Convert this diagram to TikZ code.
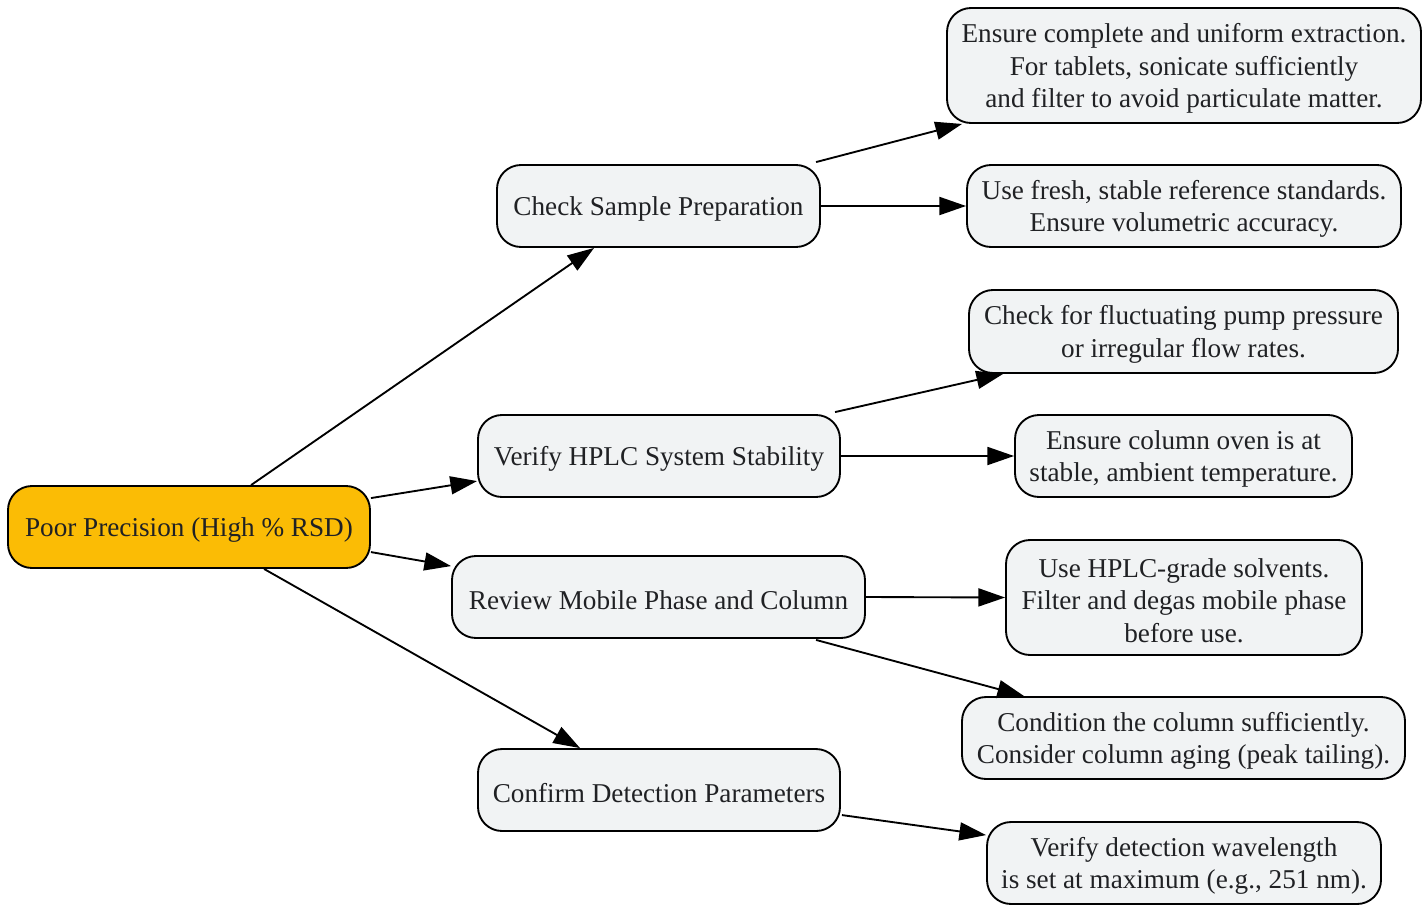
\documentclass[tikz,border=0pt]{standalone}
\usepackage{fontspec}
\setmainfont{Liberation Serif}
\usetikzlibrary{arrows.meta,calc}
\definecolor{rootfill}{HTML}{FBBC05}
\definecolor{boxfill}{HTML}{F1F3F4}
\definecolor{txt}{HTML}{202124}
\begin{document}
\begin{tikzpicture}[x=0.75pt,y=-0.75pt,
  box/.style={draw=black, line width=1.4pt, fill=boxfill, rounded corners=18pt, inner sep=0pt},
  rootbox/.style={box, fill=rootfill},
  lbl/.style={align=center, inner sep=0pt, text=txt, font=\fontsize{20.4}{24.4}\selectfont},
  conn/.style={line width=1.4pt, -{Triangle[length=20pt,width=13.5pt]}}]
\useasboundingbox (0,0) rectangle (1428,904);
% root
\node[rootbox, minimum width=362*0.75pt, minimum height=82*0.75pt] (root) at (189,527) {};
\node[lbl] (rootT) at ([yshift=-2.25pt]root.center) {Poor Precision (High \% RSD)};
% level 1
\node[box, minimum width=323*0.75pt, minimum height=82*0.75pt] (A) at (658.5,206) {};
\node[lbl] (AT) at ([yshift=-2.25pt]A.center) {Check Sample Preparation};
\node[box, minimum width=362*0.75pt, minimum height=82*0.75pt] (B) at (659,456) {};
\node[lbl] (BT) at ([yshift=-2.25pt]B.center) {Verify HPLC System Stability};
\node[box, minimum width=413*0.75pt, minimum height=82*0.75pt] (C) at (658.5,597) {};
\node[lbl] (CT) at ([yshift=-2.25pt]C.center) {Review Mobile Phase and Column};
\node[box, minimum width=362*0.75pt, minimum height=82*0.75pt] (D) at (659,790) {};
\node[lbl] (DT) at ([yshift=-2.25pt]D.center) {Confirm Detection Parameters};
% level 2
\node[box, minimum width=474*0.75pt, minimum height=115*0.75pt] (A1) at (1184,65.5) {};
\node[lbl] (A1T) at ([yshift=-2.25pt]A1.center) {Ensure complete and uniform extraction.\\For tablets, sonicate sufficiently\\and filter to avoid particulate matter.};
\node[box, minimum width=434*0.75pt, minimum height=82*0.75pt] (A2) at (1184,206) {};
\node[lbl] (A2T) at ([yshift=-2.25pt]A2.center) {Use fresh, stable reference standards.\\Ensure volumetric accuracy.};
\node[box, minimum width=429*0.75pt, minimum height=83*0.75pt] (B1) at (1183.5,331.5) {};
\node[lbl] (B1T) at ([yshift=-2.25pt]B1.center) {Check for fluctuating pump pressure\\or irregular flow rates.};
\node[box, minimum width=337*0.75pt, minimum height=82*0.75pt] (B2) at (1183.5,456) {};
\node[lbl] (B2T) at ([yshift=-2.25pt]B2.center) {Ensure column oven is at\\stable, ambient temperature.};
\node[box, minimum width=356*0.75pt, minimum height=115*0.75pt] (C1) at (1184,597.5) {};
\node[lbl] (C1T) at ([yshift=-2.25pt]C1.center) {Use HPLC-grade solvents.\\Filter and degas mobile phase\\before use.};
\node[box, minimum width=443*0.75pt, minimum height=82*0.75pt] (C2) at (1183.5,738) {};
\node[lbl] (C2T) at ([yshift=-2.25pt]C2.center) {Condition the column sufficiently.\\Consider column aging (peak tailing).};
\node[box, minimum width=394*0.75pt, minimum height=82*0.75pt] (D1) at (1184,863) {};
\node[lbl] (D1T) at ([yshift=-2.25pt]D1.center) {Verify detection wavelength\\is set at maximum (e.g., 251 nm).};
% connectors
\draw[conn] ($(root.north west)+(244,0)$) -- ($(A.south west)+(98,0)$);
\draw[conn] ($(root.north east)+(0,13)$) -- ($(B.north west)+(0,67)$);
\draw[conn] ($(root.north east)+(0,67)$) -- ($(C.north west)+(0,11)$);
\draw[conn] ($(root.south west)+(257,0)$) -- ($(D.north west)+(103,0)$);
\draw[conn] ($(A.north west)+(320,-2)$) -- ($(A1.south west)+(16,0)$);
\draw[conn] (A.east) -- (A2.west);
\draw[conn] ($(B.north west)+(358,-2)$) -- ($(B1.south west)+(35,0)$);
\draw[conn] (B.east) -- (B2.west);
\draw[conn] (C.east) -- (C1.west);
\draw[conn] ($(C.south west)+(365,1)$) -- ($(C2.north west)+(63,0)$);
\draw[conn] ($(D.north east)+(1,67)$) -- ($(D1.north west)+(0,14)$);
\end{tikzpicture}
\end{document}
